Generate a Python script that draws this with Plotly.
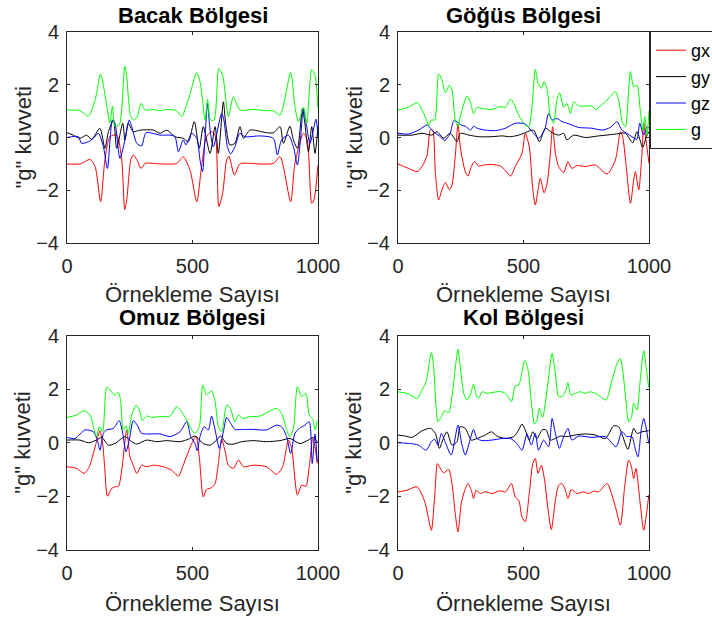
import plotly.graph_objects as go

# ---------------- data (sample index, g value) ----------------
# Bacak Bölgesi
bacak_gx_x = [0, 52, 92, 112, 134, 151, 171, 198, 218, 230, 238, 254, 264, 278, 295, 311, 371, 437, 463, 490, 517, 536, 556, 576, 590, 605, 620, 636, 645, 667, 689, 769, 822, 849, 891, 908, 942, 957, 975, 984, 1000]
bacak_gx_y = [-1.0, -1.0, -0.83, -1.10, -2.43, -0.85, 0.03, 0.09, -0.85, -2.72, -2.36, -0.85, -0.66, -0.83, -1.17, -0.98, -1.0, -0.98, -0.73, -1.23, -2.43, -1.10, 0.03, 0.22, 0.09, -2.61, -2.11, -0.85, -0.70, -1.42, -1.0, -1.0, -0.98, -0.73, -2.43, -0.98, 0.16, -0.09, -2.49, -2.36, -1.04]
bacak_gy_x = [0, 25, 52, 78, 98, 131, 151, 165, 185, 198, 222, 231, 244, 264, 291, 344, 371, 397, 430, 463, 483, 507, 527, 543, 570, 590, 603, 623, 632, 649, 669, 689, 703, 729, 795, 822, 849, 862, 888, 902, 918, 938, 946, 962, 975, 988, 1000]
bacak_gy_y = [0.18, 0.09, -0.03, 0.09, -0.07, 0.35, -0.41, 0.22, 0.66, -0.41, 0.54, -0.09, 0.54, 0.22, 0.28, 0.28, 0.16, 0.28, 0.03, -0.03, -0.16, 0.60, -0.41, 0.41, -0.60, 0.41, -0.60, 1.35, 0.54, -0.28, -0.22, 0.41, -0.03, 0.28, 0.18, 0.18, 0.41, -0.22, 0.43, -0.09, -0.41, 1.10, 0.66, -0.54, 0.41, -0.60, 0.41]
bacak_gz_x = [0, 45, 58, 85, 105, 125, 145, 161, 181, 191, 211, 231, 248, 258, 278, 297, 315, 371, 410, 430, 444, 463, 474, 497, 517, 530, 540, 550, 560, 570, 583, 616, 625, 639, 652, 669, 689, 709, 769, 822, 838, 855, 882, 902, 918, 931, 942, 955, 968, 992, 1000]
bacak_gz_y = [0.0, 0.03, -0.22, -0.16, -0.03, 0.16, -0.35, -1.17, 0.66, 0.54, -0.79, -0.09, 0.66, 0.41, -0.22, -0.32, 0.18, 0.09, 0.09, 0.03, -0.54, -0.09, -0.28, 0.16, -0.03, -0.85, -1.29, 0.03, 1.29, 0.28, -0.35, 0.91, 0.66, -0.35, -0.62, -0.35, 0.16, 0.03, 0.06, -0.03, -0.66, -0.09, 0.09, -0.35, -1.04, 0.03, 1.10, 0.41, -0.22, 0.69, 0.03]
bacak_g_x = [0, 52, 85, 112, 134, 158, 171, 181, 191, 208, 230, 238, 254, 267, 280, 295, 311, 344, 371, 397, 437, 457, 483, 517, 530, 540, 550, 560, 572, 586, 605, 620, 643, 663, 689, 742, 795, 822, 849, 891, 908, 922, 942, 955, 975, 988, 1000]
bacak_g_y = [1.04, 1.01, 0.81, 1.42, 2.40, 1.23, 0.54, 1.19, 0.43, 0.47, 2.70, 2.30, 0.79, 0.66, 0.79, 1.29, 1.04, 1.06, 1.01, 1.06, 1.01, 0.79, 1.42, 2.45, 2.11, 1.42, 0.66, 1.44, 0.66, 0.66, 2.61, 2.36, 0.79, 1.54, 1.04, 1.06, 1.01, 1.01, 0.85, 2.45, 1.17, 0.60, 1.14, 0.54, 2.58, 2.36, 1.07]

# Göğüs Bölgesi
gogus_gx_x = [0, 42, 76, 96, 116, 129, 138, 149, 162, 175, 189, 205, 215, 228, 239, 248, 268, 279, 292, 305, 321, 341, 374, 408, 428, 448, 467, 494, 507, 523, 536, 547, 558, 567, 582, 594, 607, 616, 627, 640, 660, 677, 693, 713, 746, 786, 833, 866, 886, 895, 908, 926, 939, 946, 959, 972, 979, 988, 1000]
gogus_gx_y = [-1.0, -1.17, -1.29, -1.10, -0.66, 0.28, 0.28, -1.35, -2.36, -1.98, -1.70, -1.98, -1.80, -0.72, 0.51, -0.35, -1.29, -1.46, -1.10, -0.91, -1.08, -1.04, -1.02, -1.08, -1.25, -1.46, -1.10, -0.60, 0.16, -0.35, -1.86, -2.55, -1.98, -1.54, -2.09, -1.73, -0.60, 0.41, -0.60, -1.10, -1.33, -0.91, -1.17, -1.06, -1.10, -1.04, -1.38, -0.85, 0.22, 0.03, -0.98, -2.49, -1.61, -1.29, -1.98, -0.60, 0.54, -0.09, -0.98]
gogus_gy_x = [0, 56, 96, 135, 155, 182, 208, 235, 248, 282, 321, 374, 414, 448, 481, 507, 540, 563, 587, 614, 640, 660, 673, 700, 746, 799, 859, 906, 935, 952, 975, 989, 1000]
gogus_gy_y = [0.09, 0.09, 0.16, 0.09, 0.22, -0.03, 0.16, -0.16, 0.16, 0.09, 0.03, 0.03, 0.06, 0.03, 0.09, 0.18, 0.28, -0.16, 0.35, 0.18, 0.09, 0.16, -0.09, 0.09, 0.0, 0.06, 0.12, 0.16, -0.20, 0.22, -0.37, 0.03, 0.22]
gogus_gz_x = [0, 42, 82, 116, 129, 149, 169, 186, 208, 222, 235, 252, 268, 289, 301, 315, 348, 388, 428, 467, 507, 534, 560, 584, 600, 614, 633, 653, 673, 693, 720, 773, 813, 846, 872, 892, 912, 932, 952, 963, 979, 992, 1000]
gogus_gz_y = [0.16, 0.13, 0.28, 0.47, 0.35, 0.16, 0.03, -0.12, 0.16, 0.63, 0.60, 0.47, 0.43, 0.28, 0.43, 0.35, 0.28, 0.26, 0.35, 0.54, 0.51, 0.22, -0.03, 0.28, 0.91, 0.66, 0.72, 0.60, 0.54, 0.47, 0.38, 0.35, 0.28, 0.38, 0.60, 0.28, 0.16, 0.03, -0.07, 0.54, 0.09, 0.41, 0.35]
gogus_g_x = [0, 42, 76, 96, 116, 122, 133, 146, 162, 173, 189, 205, 215, 228, 239, 248, 275, 288, 301, 315, 335, 374, 408, 428, 448, 461, 481, 507, 521, 534, 547, 558, 571, 582, 594, 607, 620, 633, 644, 660, 673, 687, 700, 720, 773, 786, 833, 866, 879, 895, 906, 926, 939, 952, 965, 976, 983, 992, 1000]
gogus_g_y = [1.04, 1.14, 1.32, 1.04, 0.60, 0.43, 0.66, 0.66, 2.40, 2.24, 1.69, 1.98, 1.80, 0.66, 0.41, 0.79, 1.57, 1.35, 0.91, 1.14, 1.10, 1.06, 1.17, 1.14, 1.45, 1.29, 0.85, 0.47, 0.41, 1.17, 2.58, 2.05, 1.86, 2.11, 1.82, 0.79, 0.54, 1.42, 1.69, 1.14, 1.29, 0.91, 1.35, 1.19, 1.19, 1.06, 1.42, 1.73, 1.42, 0.54, 0.41, 2.49, 1.92, 1.98, 1.04, 0.28, 0.79, 0.09, 1.01]

# Omuz Bölgesi
omuz_gx_x = [0, 39, 68, 89, 105, 121, 131, 142, 151, 161, 178, 191, 205, 218, 238, 251, 264, 278, 297, 315, 344, 384, 417, 444, 463, 497, 514, 527, 543, 556, 576, 590, 603, 616, 629, 643, 663, 683, 703, 742, 795, 835, 859, 882, 895, 918, 935, 952, 965, 979, 988, 997]
omuz_gx_y = [-0.90, -0.96, -1.15, -0.90, -0.40, 0.16, 0.45, -0.03, -1.03, -2.0, -1.71, -1.65, -1.63, -1.03, 0.48, -0.53, -0.84, -1.15, -0.84, -0.90, -0.84, -0.90, -1.03, -1.25, -0.84, -0.03, 0.25, -0.53, -2.03, -1.75, -1.68, -1.53, -0.78, 0.13, -0.28, -0.84, -0.96, -0.65, -0.90, -0.84, -0.90, -1.18, -0.90, 0.10, -0.21, -1.96, -1.59, -1.63, -0.90, 0.16, -0.15, -0.78]
omuz_gy_x = [0, 52, 85, 118, 138, 165, 191, 231, 258, 278, 317, 357, 397, 450, 483, 510, 543, 570, 590, 612, 636, 663, 696, 742, 795, 849, 888, 928, 961, 981, 997]
omuz_gy_y = [0.10, 0.10, 0.0, 0.10, 0.20, -0.09, -0.03, 0.23, 0.04, -0.05, 0.10, 0.04, 0.08, 0.04, 0.13, 0.25, -0.03, -0.09, 0.04, 0.25, -0.03, -0.05, 0.04, 0.08, 0.04, 0.08, 0.16, -0.03, 0.10, 0.20, 0.04]
omuz_gz_x = [0, 32, 72, 105, 121, 131, 145, 158, 185, 208, 222, 235, 248, 264, 280, 297, 317, 371, 410, 450, 477, 493, 510, 519, 530, 546, 563, 576, 590, 607, 623, 636, 652, 669, 703, 742, 795, 835, 855, 875, 891, 908, 926, 948, 965, 977, 988, 997]
omuz_gz_y = [0.20, 0.16, 0.48, 0.41, 0.10, -0.28, 0.35, 0.48, 0.54, 0.83, 0.35, -0.34, 0.10, 0.83, 0.66, 0.35, 0.33, 0.33, 0.23, 0.41, 0.79, 0.23, -0.03, -0.30, 0.23, 0.60, 0.48, 1.00, 0.48, -0.21, 0.41, 0.95, 0.73, 0.50, 0.50, 0.50, 0.48, 0.66, 0.60, 0.23, -0.40, 0.35, 0.54, 0.66, 0.79, -0.78, 0.33, -0.71]
omuz_g_x = [0, 39, 65, 92, 105, 118, 129, 142, 158, 171, 189, 205, 214, 224, 235, 244, 258, 275, 288, 301, 317, 337, 371, 410, 437, 450, 477, 497, 510, 527, 541, 556, 576, 590, 603, 616, 636, 649, 669, 683, 700, 729, 769, 802, 835, 855, 875, 888, 902, 918, 935, 952, 965, 979, 988, 997]
omuz_g_y = [0.95, 1.04, 1.20, 1.04, 0.60, 0.23, 0.60, 0.41, 2.08, 1.98, 1.79, 1.88, 1.54, 0.48, 0.63, 0.35, 1.04, 1.41, 1.23, 0.83, 1.00, 0.95, 0.98, 1.00, 1.35, 1.25, 0.85, 0.48, 0.35, 0.60, 2.16, 1.79, 1.95, 1.54, 0.60, 0.41, 1.41, 1.33, 0.79, 1.04, 0.91, 0.98, 1.00, 1.16, 1.29, 1.10, 0.48, 0.23, 0.54, 2.10, 1.73, 1.85, 1.04, 0.88, 0.48, 0.83]

# Kol Bölgesi
kol_gx_x = [0, 36, 76, 96, 109, 120, 133, 146, 157, 165, 182, 202, 215, 228, 239, 252, 266, 279, 292, 301, 311, 328, 348, 374, 408, 428, 452, 467, 481, 494, 507, 523, 537, 547, 558, 571, 584, 598, 611, 627, 640, 653, 667, 677, 691, 713, 740, 760, 780, 799, 833, 866, 886, 903, 919, 930, 939, 948, 965, 979, 992, 999]
kol_gx_y = [-1.84, -1.78, -1.65, -1.96, -2.28, -2.78, -3.28, -2.03, -0.78, -0.90, -1.13, -1.00, -1.53, -2.65, -3.34, -2.28, -1.78, -1.53, -1.78, -2.09, -1.78, -1.90, -1.84, -1.90, -1.80, -1.84, -1.53, -2.03, -2.15, -2.78, -2.96, -1.90, -0.78, -0.59, -1.15, -0.84, -1.40, -2.53, -3.25, -2.15, -1.59, -1.53, -1.78, -2.09, -1.75, -1.90, -1.84, -1.90, -1.81, -1.84, -1.53, -2.40, -3.09, -1.65, -0.65, -0.90, -1.34, -0.96, -2.28, -3.28, -2.53, -1.96]
kol_gy_x = [0, 29, 56, 96, 129, 149, 165, 178, 195, 215, 235, 248, 268, 292, 315, 348, 372, 394, 428, 461, 481, 494, 507, 523, 537, 554, 574, 590, 607, 627, 647, 673, 706, 746, 786, 826, 859, 879, 895, 916, 939, 952, 972, 999]
kol_gy_y = [0.29, 0.25, 0.20, 0.45, 0.54, 0.35, -0.21, 0.10, 0.41, -0.09, 0.04, 0.60, 0.54, 0.10, 0.16, 0.29, 0.41, 0.25, 0.16, 0.23, 0.48, 0.70, 0.48, 0.10, 0.41, 0.16, 0.48, 0.48, 0.10, 0.16, 0.25, 0.23, 0.29, 0.33, 0.29, 0.16, 0.63, 0.60, 0.25, -0.25, 0.54, 0.35, 0.41, 0.45]
kol_gz_x = [0, 49, 82, 112, 133, 146, 159, 173, 189, 212, 239, 255, 268, 284, 301, 315, 335, 374, 414, 448, 474, 494, 514, 531, 547, 560, 580, 600, 614, 627, 643, 660, 677, 693, 720, 773, 826, 869, 892, 912, 932, 943, 956, 969, 979, 999]
kol_gz_y = [0.0, -0.03, -0.09, -0.28, 0.04, 0.13, -0.09, 0.35, 0.0, -0.46, 0.66, -0.09, -0.46, 0.0, 0.50, 0.16, 0.08, 0.10, 0.16, 0.16, -0.03, -0.28, 0.33, -0.09, 0.35, -0.28, 0.10, -0.15, 0.91, 0.35, -0.21, 0.23, 0.54, 0.10, 0.25, 0.20, 0.23, -0.15, 0.41, 0.23, 0.23, -0.15, -0.53, 0.48, 0.91, -0.03]
kol_g_x = [0, 36, 56, 76, 96, 112, 122, 133, 142, 151, 159, 169, 186, 202, 215, 228, 239, 248, 262, 275, 288, 301, 311, 321, 335, 355, 374, 394, 414, 434, 452, 467, 481, 505, 518, 531, 544, 554, 563, 576, 594, 614, 627, 640, 653, 667, 677, 688, 706, 726, 746, 766, 786, 806, 829, 853, 873, 886, 895, 908, 919, 930, 939, 952, 965, 979, 988, 999]
kol_g_y = [1.91, 1.85, 1.75, 1.66, 1.98, 2.29, 2.85, 3.38, 2.85, 1.41, 0.79, 0.91, 1.20, 1.13, 1.73, 2.79, 3.50, 2.85, 1.85, 1.60, 1.79, 2.20, 1.79, 1.66, 1.91, 1.85, 1.88, 1.91, 1.91, 1.79, 1.54, 2.13, 2.16, 3.08, 2.73, 1.54, 0.70, 0.85, 1.29, 0.95, 1.98, 3.35, 2.60, 1.73, 1.73, 1.91, 2.25, 1.79, 1.85, 1.91, 1.85, 1.91, 1.85, 1.73, 1.60, 2.35, 2.98, 3.16, 2.73, 1.60, 0.79, 0.95, 1.48, 1.23, 2.35, 3.45, 2.85, 2.08]

titles = ["Bacak Bölgesi", "Göğüs Bölgesi", "Omuz Bölgesi", "Kol Bölgesi"]
series_names = ["gx", "gy", "gz", "g"]
series_colors = ["#FF0000", "#000000", "#0000FF", "#00FF00"]
x_ticks = [0, 500, 1000]
y_ticks = [-4, -2, 0, 2, 4]
x_label = "Örnekleme Sayısı"
y_label = '"g" kuvveti'

panels = [
    [(bacak_gx_x, bacak_gx_y), (bacak_gy_x, bacak_gy_y), (bacak_gz_x, bacak_gz_y), (bacak_g_x, bacak_g_y)],
    [(gogus_gx_x, gogus_gx_y), (gogus_gy_x, gogus_gy_y), (gogus_gz_x, gogus_gz_y), (gogus_g_x, gogus_g_y)],
    [(omuz_gx_x, omuz_gx_y), (omuz_gy_x, omuz_gy_y), (omuz_gz_x, omuz_gz_y), (omuz_g_x, omuz_g_y)],
    [(kol_gx_x, kol_gx_y), (kol_gy_x, kol_gy_y), (kol_gz_x, kol_gz_y), (kol_g_x, kol_g_y)],
]

# ---------------- layout ----------------
W, H = 712, 623
FONT = "Liberation Sans, Arial, Helvetica, sans-serif"
AX = "#262626"
col_px = [(67, 318), (398, 649)]
row_px = [(31.7, 243.3), (336.0, 549.5)]
title_y = [15, 317]
xlabel_y = [295, 603]

fig = go.Figure()
layout = dict(
    width=W, height=H, margin=dict(l=0, r=0, t=0, b=0, autoexpand=False),
    paper_bgcolor="white", plot_bgcolor="white",
    font=dict(family=FONT, size=20, color=AX),
    showlegend=True,
    legend=dict(x=650 / W, y=1 - 31 / H, xanchor="left", yanchor="top",
                xref="container", yref="container",
                bordercolor=AX, borderwidth=1, bgcolor="white",
                font=dict(family=FONT, size=18, color="#000000"),
                tracegroupgap=0, itemwidth=30),
)
annotations = []
for i in range(4):
    r, c = divmod(i, 2)
    xa = "x" if i == 0 else f"x{i+1}"
    ya = "y" if i == 0 else f"y{i+1}"
    x0, x1 = col_px[c]
    y0, y1 = row_px[r]
    common = dict(showgrid=False, zeroline=False, showline=True, linecolor=AX, linewidth=1,
                  mirror="ticks", ticks="inside", ticklen=3, tickcolor=AX,
                  tickfont=dict(family=FONT, size=20, color=AX))
    layout["xaxis" if i == 0 else f"xaxis{i+1}"] = dict(
        domain=[x0 / W, x1 / W], range=[0, 1000], tickvals=x_ticks, anchor=ya,
        ticklabelstandoff=5, **common)
    layout["yaxis" if i == 0 else f"yaxis{i+1}"] = dict(
        domain=[1 - y1 / H, 1 - y0 / H], range=[-4, 4], tickvals=y_ticks, anchor=xa,
        ticklabelstandoff=3, **common)
    for k, (xs, ys) in enumerate(panels[i]):
        fig.add_trace(go.Scatter(
            x=xs, y=ys, mode="lines", name=series_names[k],
            line=dict(color=series_colors[k], width=1, shape="spline", smoothing=0.7),
            xaxis=xa, yaxis=ya, showlegend=(i == 1), legendgroup=series_names[k],
            hoverinfo="skip"))
    cx = (x0 + x1) / 2
    cy = (y0 + y1) / 2
    annotations.append(dict(text=f"<b>{titles[i]}</b>", x=cx / W, y=1 - title_y[r] / H,
                            xref="paper", yref="paper", xanchor="center", yanchor="middle",
                            showarrow=False, font=dict(family=FONT, size=22, color="#000000")))
    annotations.append(dict(text=x_label, x=cx / W, y=1 - xlabel_y[r] / H,
                            xref="paper", yref="paper", xanchor="center", yanchor="middle",
                            showarrow=False, font=dict(family=FONT, size=22, color=AX)))
    annotations.append(dict(text=y_label, x=(x0 - 44) / W, y=1 - cy / H, textangle=-90,
                            xref="paper", yref="paper", xanchor="center", yanchor="middle",
                            showarrow=False, font=dict(family=FONT, size=22, color=AX)))
layout["annotations"] = annotations
fig.update_layout(**layout)
fig.write_html("out.html")
